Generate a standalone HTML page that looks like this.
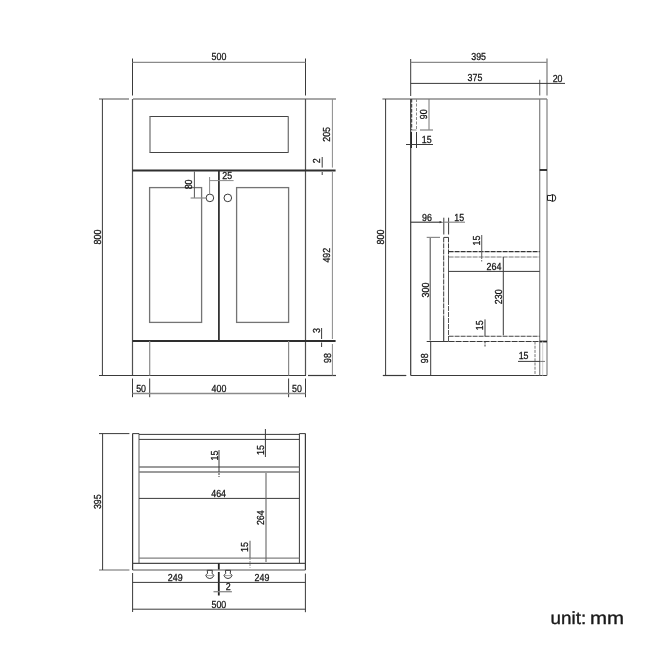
<!DOCTYPE html>
<html><head><meta charset="utf-8"><style>
html,body{margin:0;padding:0;background:#fff;width:650px;height:650px;overflow:hidden}
svg{display:block;will-change:transform}
text{stroke:#111;stroke-width:0.25px;text-rendering:geometricPrecision;font-family:"Liberation Sans",sans-serif;font-size:10.2px;fill:#111}
.unit{font-size:17.6px;fill:#1a1a1a;stroke:#1a1a1a;stroke-width:0.35px}
</style></head><body>
<svg width="650" height="650" viewBox="0 0 650 650">
<line x1="132.5" y1="58.5" x2="132.5" y2="95.5" stroke="#3a3a3a" stroke-width="1"/>
<line x1="305.5" y1="58.5" x2="305.5" y2="95.5" stroke="#3a3a3a" stroke-width="1"/>
<line x1="132.5" y1="62.3" x2="305.5" y2="62.3" stroke="#8a8a8a" stroke-width="1.3"/>
<text transform="translate(219,60) scale(0.87,1)" x="0" y="0" text-anchor="middle">500</text>
<line x1="99" y1="99" x2="129" y2="99" stroke="#8a8a8a" stroke-width="1.5"/>
<line x1="133" y1="99" x2="336" y2="99" stroke="#8a8a8a" stroke-width="1.5"/>
<line x1="102.4" y1="99" x2="102.4" y2="375.5" stroke="#3a3a3a" stroke-width="1"/>
<text transform="translate(97.2,237) rotate(-90) scale(0.87,1)" x="0" y="3.72" text-anchor="middle">800</text>
<line x1="132.5" y1="99" x2="132.5" y2="375.5" stroke="#505050" stroke-width="1.2"/>
<line x1="305.5" y1="99" x2="305.5" y2="375.5" stroke="#505050" stroke-width="1.2"/>
<line x1="99" y1="375.5" x2="306" y2="375.5" stroke="#3a3a3a" stroke-width="1.2"/>
<line x1="308" y1="375.5" x2="336" y2="375.5" stroke="#3a3a3a" stroke-width="1.2"/>
<line x1="149.5" y1="116.5" x2="288.5" y2="116.5" stroke="#444" stroke-width="1.1"/>
<line x1="149.5" y1="152.5" x2="288.5" y2="152.5" stroke="#444" stroke-width="1.1"/>
<line x1="150" y1="116.5" x2="150" y2="152.5" stroke="#777" stroke-width="1.3"/>
<line x1="288.3" y1="116.5" x2="288.3" y2="152.5" stroke="#777" stroke-width="1.3"/>
<line x1="132.5" y1="170.4" x2="335.6" y2="170.4" stroke="#2e2e2e" stroke-width="2"/>
<line x1="132.5" y1="341" x2="335.6" y2="341" stroke="#2e2e2e" stroke-width="2"/>
<line x1="218.9" y1="170.4" x2="218.9" y2="341" stroke="#333" stroke-width="1.8"/>
<rect x="149.6" y="187.6" width="52.0" height="134.79999999999998" fill="none" stroke="#747474" stroke-width="1.3"/>
<rect x="236.6" y="187.6" width="52.00000000000003" height="134.79999999999998" fill="none" stroke="#747474" stroke-width="1.3"/>
<circle cx="209.9" cy="197.9" r="3.8" fill="none" stroke="#3a3a3a" stroke-width="1"/>
<circle cx="227.8" cy="197.9" r="3.8" fill="none" stroke="#3a3a3a" stroke-width="1"/>
<line x1="149.7" y1="341" x2="149.7" y2="375.5" stroke="#8a8a8a" stroke-width="1.2"/>
<line x1="288.6" y1="341" x2="288.6" y2="375.5" stroke="#8a8a8a" stroke-width="1.2"/>
<line x1="194.4" y1="171.5" x2="194.4" y2="198" stroke="#555" stroke-width="1"/>
<line x1="190.6" y1="198" x2="206" y2="198" stroke="#8a8a8a" stroke-width="1.2"/>
<text transform="translate(188.6,184.4) rotate(-90) scale(0.87,1)" x="0" y="3.72" text-anchor="middle">80</text>
<line x1="209.6" y1="177" x2="209.6" y2="194.5" stroke="#8a8a8a" stroke-width="1"/>
<line x1="209.6" y1="180.6" x2="233.6" y2="180.6" stroke="#8a8a8a" stroke-width="1"/>
<text transform="translate(227.2,179) scale(0.87,1)" x="0" y="0" text-anchor="middle">25</text>
<line x1="332.4" y1="99" x2="332.4" y2="167.6" stroke="#8a8a8a" stroke-width="1"/>
<text transform="translate(326.3,134.4) rotate(-90) scale(0.87,1)" x="0" y="3.72" text-anchor="middle">205</text>
<line x1="322.2" y1="157" x2="322.2" y2="167.6" stroke="#3a3a3a" stroke-width="1"/>
<line x1="322.2" y1="172" x2="322.2" y2="175" stroke="#3a3a3a" stroke-width="1"/>
<text transform="translate(316.5,160.7) rotate(-90) scale(0.87,1)" x="0" y="3.72" text-anchor="middle">2</text>
<line x1="332.4" y1="172" x2="332.4" y2="339" stroke="#8a8a8a" stroke-width="1"/>
<text transform="translate(326.1,255.2) rotate(-90) scale(0.87,1)" x="0" y="3.72" text-anchor="middle">492</text>
<line x1="321.6" y1="328" x2="321.6" y2="339" stroke="#3a3a3a" stroke-width="1"/>
<line x1="321.6" y1="342.5" x2="321.6" y2="347" stroke="#3a3a3a" stroke-width="1"/>
<text transform="translate(316.2,330.5) rotate(-90) scale(0.87,1)" x="0" y="3.72" text-anchor="middle">3</text>
<line x1="332.4" y1="344" x2="332.4" y2="375.5" stroke="#8a8a8a" stroke-width="1"/>
<text transform="translate(327,358) rotate(-90) scale(0.87,1)" x="0" y="3.72" text-anchor="middle">98</text>
<line x1="132.5" y1="378.5" x2="132.5" y2="397.2" stroke="#3a3a3a" stroke-width="1"/>
<line x1="149.7" y1="378.5" x2="149.7" y2="397.2" stroke="#3a3a3a" stroke-width="1"/>
<line x1="288.6" y1="378.5" x2="288.6" y2="397.2" stroke="#3a3a3a" stroke-width="1"/>
<line x1="305.5" y1="378.5" x2="305.5" y2="397.2" stroke="#3a3a3a" stroke-width="1"/>
<line x1="132.5" y1="393.5" x2="305.5" y2="393.5" stroke="#8a8a8a" stroke-width="1.3"/>
<text transform="translate(141.1,391.8) scale(0.87,1)" x="0" y="0" text-anchor="middle">50</text>
<text transform="translate(219,391.8) scale(0.87,1)" x="0" y="0" text-anchor="middle">400</text>
<text transform="translate(297,391.8) scale(0.87,1)" x="0" y="0" text-anchor="middle">50</text>
<line x1="382.4" y1="99" x2="547" y2="99" stroke="#8a8a8a" stroke-width="1.5"/>
<line x1="382.8" y1="375.5" x2="406.3" y2="375.5" stroke="#3a3a3a" stroke-width="1.2"/>
<line x1="410.7" y1="375.5" x2="547" y2="375.5" stroke="#3a3a3a" stroke-width="1.2"/>
<line x1="385.6" y1="99" x2="385.6" y2="375.5" stroke="#3a3a3a" stroke-width="1"/>
<text transform="translate(380.4,237) rotate(-90) scale(0.87,1)" x="0" y="3.72" text-anchor="middle">800</text>
<line x1="410.7" y1="59" x2="410.7" y2="96" stroke="#3a3a3a" stroke-width="1"/>
<line x1="410.7" y1="99" x2="410.7" y2="375.5" stroke="#3a3a3a" stroke-width="1.2"/>
<line x1="547" y1="58.5" x2="547" y2="95.4" stroke="#777" stroke-width="1.2"/>
<line x1="539.7" y1="79.7" x2="539.7" y2="95.4" stroke="#777" stroke-width="1.2"/>
<line x1="539.7" y1="99" x2="539.7" y2="375.5" stroke="#808080" stroke-width="1.2"/>
<line x1="547" y1="99" x2="547" y2="375.5" stroke="#808080" stroke-width="1.2"/>
<line x1="410.7" y1="62.3" x2="547" y2="62.3" stroke="#8a8a8a" stroke-width="1.3"/>
<text transform="translate(478.6,60) scale(0.87,1)" x="0" y="0" text-anchor="middle">395</text>
<line x1="410.7" y1="83.4" x2="565" y2="83.4" stroke="#3a3a3a" stroke-width="1"/>
<text transform="translate(475,81.4) scale(0.87,1)" x="0" y="0" text-anchor="middle">375</text>
<text transform="translate(557.6,81.5) scale(0.87,1)" x="0" y="0" text-anchor="middle">20</text>
<line x1="411.7" y1="99" x2="411.7" y2="130" stroke="#333" stroke-width="1" stroke-dasharray="3.5 1.5"/>
<line x1="416.5" y1="99" x2="416.5" y2="129" stroke="#8a8a8a" stroke-width="1" stroke-dasharray="3 1.5"/>
<line x1="411.7" y1="130" x2="416.5" y2="130" stroke="#8a8a8a" stroke-width="1"/>
<line x1="429" y1="99" x2="429" y2="130" stroke="#777" stroke-width="1"/>
<line x1="420" y1="130" x2="433" y2="130" stroke="#8a8a8a" stroke-width="1.3"/>
<text transform="translate(423.5,114.3) rotate(-90) scale(0.87,1)" x="0" y="3.72" text-anchor="middle">90</text>
<line x1="411.3" y1="132" x2="411.3" y2="148" stroke="#222" stroke-width="1.3"/>
<line x1="416.5" y1="132" x2="416.5" y2="148" stroke="#3a3a3a" stroke-width="1"/>
<line x1="406" y1="144.5" x2="433" y2="144.5" stroke="#3a3a3a" stroke-width="1"/>
<text transform="translate(426.7,142.5) scale(0.87,1)" x="0" y="0" text-anchor="middle">15</text>
<line x1="539.7" y1="170" x2="547" y2="170" stroke="#222" stroke-width="1.8"/>
<path d="M547.5 195.3 Q550 196.3 552.5 194.6 L552.5 201.4 Q550 199.7 547.5 200.4 Z M552.5 194.6 A3.3 3.4 0 0 1 552.5 201.4" fill="none" stroke="#1e1e1e" stroke-width="1"/>
<line x1="410.7" y1="222.2" x2="441" y2="222.2" stroke="#333" stroke-width="1.1"/>
<path d="M443.5 222.2 L439.5 221.1 L439.5 223.3 Z" fill="#3a3a3a"/>
<text transform="translate(427,221) scale(0.87,1)" x="0" y="0" text-anchor="middle">96</text>
<line x1="443.8" y1="217.7" x2="443.8" y2="234.5" stroke="#3a3a3a" stroke-width="1"/>
<line x1="448.6" y1="217.7" x2="448.6" y2="234.5" stroke="#3a3a3a" stroke-width="1"/>
<line x1="443.8" y1="222.2" x2="465" y2="222.2" stroke="#8a8a8a" stroke-width="1.2"/>
<text transform="translate(459.2,221) scale(0.87,1)" x="0" y="0" text-anchor="middle">15</text>
<line x1="443.8" y1="237.4" x2="448.6" y2="237.4" stroke="#3a3a3a" stroke-width="1"/>
<line x1="443.7" y1="237.4" x2="443.7" y2="318" stroke="#3a3a3a" stroke-width="1" stroke-dasharray="5 1"/>
<line x1="443.7" y1="318" x2="443.7" y2="341.5" stroke="#3a3a3a" stroke-width="1.1"/>
<line x1="448.5" y1="237.4" x2="448.5" y2="257" stroke="#3a3a3a" stroke-width="1" stroke-dasharray="5 1"/>
<line x1="448.5" y1="257" x2="448.5" y2="300" stroke="#555" stroke-width="1"/>
<line x1="448.5" y1="300" x2="448.5" y2="341.5" stroke="#555" stroke-width="1" stroke-dasharray="5 1"/>
<line x1="430.2" y1="237.4" x2="430.2" y2="340.5" stroke="#444" stroke-width="1"/>
<line x1="426.7" y1="237.4" x2="440" y2="237.4" stroke="#8a8a8a" stroke-width="1.2"/>
<text transform="translate(425,290) rotate(-90) scale(0.87,1)" x="0" y="3.72" text-anchor="middle">300</text>
<line x1="448.6" y1="251.6" x2="539.7" y2="251.6" stroke="#333" stroke-width="1.1" stroke-dasharray="5 1"/>
<line x1="448.6" y1="257" x2="539.7" y2="257" stroke="#777" stroke-width="1.2" stroke-dasharray="5 1"/>
<line x1="481.7" y1="235" x2="481.7" y2="257" stroke="#666" stroke-width="1.1"/>
<line x1="481.7" y1="257" x2="481.7" y2="261.5" stroke="#666" stroke-width="1" stroke-dasharray="2 1"/>
<text transform="translate(476.2,240.5) rotate(-90) scale(0.87,1)" x="0" y="3.72" text-anchor="middle">15</text>
<line x1="448.6" y1="271.4" x2="539.7" y2="271.4" stroke="#3a3a3a" stroke-width="1"/>
<text transform="translate(494,270) scale(0.87,1)" x="0" y="0" text-anchor="middle">264</text>
<line x1="503.3" y1="257" x2="503.3" y2="335.4" stroke="#3a3a3a" stroke-width="1"/>
<text transform="translate(498.2,296.8) rotate(-90) scale(0.87,1)" x="0" y="3.72" text-anchor="middle">230</text>
<line x1="448.6" y1="336.3" x2="539.7" y2="336.3" stroke="#444" stroke-width="1.1" stroke-dasharray="5 1"/>
<line x1="426.7" y1="341.5" x2="448.6" y2="341.5" stroke="#3a3a3a" stroke-width="1"/>
<line x1="448.6" y1="341.5" x2="539.7" y2="341.5" stroke="#3a3a3a" stroke-width="1.1" stroke-dasharray="6 1"/>
<line x1="539.7" y1="341.5" x2="547" y2="341.5" stroke="#222" stroke-width="1.8"/>
<line x1="485" y1="319.4" x2="485" y2="336.3" stroke="#3a3a3a" stroke-width="1"/>
<line x1="485" y1="341.5" x2="485" y2="346.5" stroke="#3a3a3a" stroke-width="1" stroke-dasharray="2 1"/>
<text transform="translate(479,325.2) rotate(-90) scale(0.87,1)" x="0" y="3.72" text-anchor="middle">15</text>
<line x1="535" y1="341.5" x2="535" y2="375.5" stroke="#777" stroke-width="1" stroke-dasharray="3 1.2"/>
<line x1="542.7" y1="341.5" x2="542.7" y2="375.5" stroke="#d0d0d0" stroke-width="1"/>
<line x1="518" y1="361.4" x2="540" y2="361.4" stroke="#3a3a3a" stroke-width="1"/>
<line x1="540" y1="361.4" x2="545" y2="361.4" stroke="#777" stroke-width="1"/>
<text transform="translate(523.6,358.8) scale(0.87,1)" x="0" y="0" text-anchor="middle">15</text>
<line x1="430.7" y1="341.5" x2="430.7" y2="375.5" stroke="#3a3a3a" stroke-width="1"/>
<text transform="translate(424.6,358.2) rotate(-90) scale(0.87,1)" x="0" y="3.72" text-anchor="middle">98</text>
<line x1="132.6" y1="433.6" x2="132.6" y2="570" stroke="#3a3a3a" stroke-width="1.2"/>
<line x1="305.4" y1="433.6" x2="305.4" y2="570" stroke="#3a3a3a" stroke-width="1.2"/>
<line x1="139" y1="433.6" x2="139" y2="563.4" stroke="#777" stroke-width="1.2"/>
<line x1="299.4" y1="433.6" x2="299.4" y2="563.4" stroke="#3a3a3a" stroke-width="1"/>
<line x1="132.6" y1="433.6" x2="139" y2="433.6" stroke="#3a3a3a" stroke-width="1"/>
<line x1="299.4" y1="433.6" x2="305.4" y2="433.6" stroke="#3a3a3a" stroke-width="1"/>
<line x1="139" y1="434.4" x2="299.4" y2="434.4" stroke="#3a3a3a" stroke-width="1"/>
<line x1="139" y1="439.4" x2="299.4" y2="439.4" stroke="#3a3a3a" stroke-width="1"/>
<line x1="139" y1="467" x2="299.4" y2="467" stroke="#7a7a7a" stroke-width="1.3"/>
<line x1="139" y1="472" x2="299.4" y2="472" stroke="#7a7a7a" stroke-width="1.3"/>
<line x1="139" y1="498.4" x2="299.4" y2="498.4" stroke="#3a3a3a" stroke-width="1"/>
<text transform="translate(218.6,496.6) scale(0.87,1)" x="0" y="0" text-anchor="middle">464</text>
<line x1="139" y1="558.2" x2="299.4" y2="558.2" stroke="#808080" stroke-width="1.2"/>
<line x1="132.6" y1="563.4" x2="305.4" y2="563.4" stroke="#4a4a4a" stroke-width="1.1"/>
<line x1="132.6" y1="570" x2="305.4" y2="570" stroke="#555" stroke-width="1.2"/>
<line x1="99" y1="433.6" x2="129.4" y2="433.6" stroke="#3a3a3a" stroke-width="1"/>
<line x1="99" y1="570" x2="129.4" y2="570" stroke="#8a8a8a" stroke-width="1.3"/>
<line x1="102.6" y1="433.6" x2="102.6" y2="570" stroke="#3a3a3a" stroke-width="1"/>
<text transform="translate(97.3,501.7) rotate(-90) scale(0.87,1)" x="0" y="3.72" text-anchor="middle">395</text>
<line x1="265.4" y1="429" x2="265.4" y2="457" stroke="#3a3a3a" stroke-width="1"/>
<text transform="translate(260.3,450) rotate(-90) scale(0.87,1)" x="0" y="3.72" text-anchor="middle">15</text>
<line x1="219" y1="450" x2="219" y2="470" stroke="#3a3a3a" stroke-width="1"/>
<line x1="219" y1="470" x2="219" y2="477" stroke="#3a3a3a" stroke-width="1" stroke-dasharray="2 1"/>
<text transform="translate(214.6,455.5) rotate(-90) scale(0.87,1)" x="0" y="3.72" text-anchor="middle">15</text>
<line x1="266" y1="473" x2="266" y2="562" stroke="#666" stroke-width="1.1"/>
<text transform="translate(260.3,517.7) rotate(-90) scale(0.87,1)" x="0" y="3.72" text-anchor="middle">264</text>
<line x1="250" y1="540.8" x2="250" y2="558" stroke="#666" stroke-width="1.1"/>
<line x1="250" y1="558" x2="250" y2="567.7" stroke="#8a8a8a" stroke-width="1" stroke-dasharray="2 1"/>
<text transform="translate(244.5,547) rotate(-90) scale(0.87,1)" x="0" y="3.72" text-anchor="middle">15</text>
<line x1="218.8" y1="563.4" x2="218.8" y2="569.5" stroke="#222" stroke-width="1.8"/>
<line x1="218.8" y1="572" x2="218.8" y2="595.5" stroke="#222" stroke-width="1.8"/>
<path d="M207.20000000000002 570.3 L212.4 570.3 L212.0 573.5 Q213.8 574.5 213.8 575.6 Q212.8 578.5 209.8 578.5 Q206.8 578.5 205.8 575.6 Q205.8 574.5 207.60000000000002 573.5 Z" fill="none" stroke="#3a3a3a" stroke-width="1"/>
<line x1="205.8" y1="575.6" x2="213.8" y2="575.6" stroke="#8a8a8a" stroke-width="0.8"/>
<path d="M225.4 570.3 L230.6 570.3 L230.2 573.5 Q232 574.5 232 575.6 Q231 578.5 228 578.5 Q225 578.5 224 575.6 Q224 574.5 225.8 573.5 Z" fill="none" stroke="#3a3a3a" stroke-width="1"/>
<line x1="224" y1="575.6" x2="232" y2="575.6" stroke="#8a8a8a" stroke-width="0.8"/>
<line x1="132.6" y1="582.4" x2="305.4" y2="582.4" stroke="#3a3a3a" stroke-width="1"/>
<text transform="translate(175.2,581) scale(0.87,1)" x="0" y="0" text-anchor="middle">249</text>
<text transform="translate(262,581.2) scale(0.87,1)" x="0" y="0" text-anchor="middle">249</text>
<line x1="132.6" y1="573" x2="132.6" y2="612" stroke="#3a3a3a" stroke-width="1"/>
<line x1="305.4" y1="573.6" x2="305.4" y2="612.2" stroke="#3a3a3a" stroke-width="1"/>
<text transform="translate(228.1,589.6) scale(0.87,1)" x="0" y="0" text-anchor="middle">2</text>
<line x1="213.5" y1="591.7" x2="231.9" y2="591.7" stroke="#8a8a8a" stroke-width="1.3"/>
<line x1="132.6" y1="609.2" x2="305.4" y2="609.2" stroke="#3a3a3a" stroke-width="1"/>
<text transform="translate(218.9,607.5) scale(0.87,1)" x="0" y="0" text-anchor="middle">500</text>
<text class="unit" transform="translate(550.6,623.9) scale(1.07,1)" x="0" y="0">unit:</text>
<text class="unit" transform="translate(589.9,623.9) scale(1.16,1)" x="0" y="0">mm</text>
</svg>
</body></html>
